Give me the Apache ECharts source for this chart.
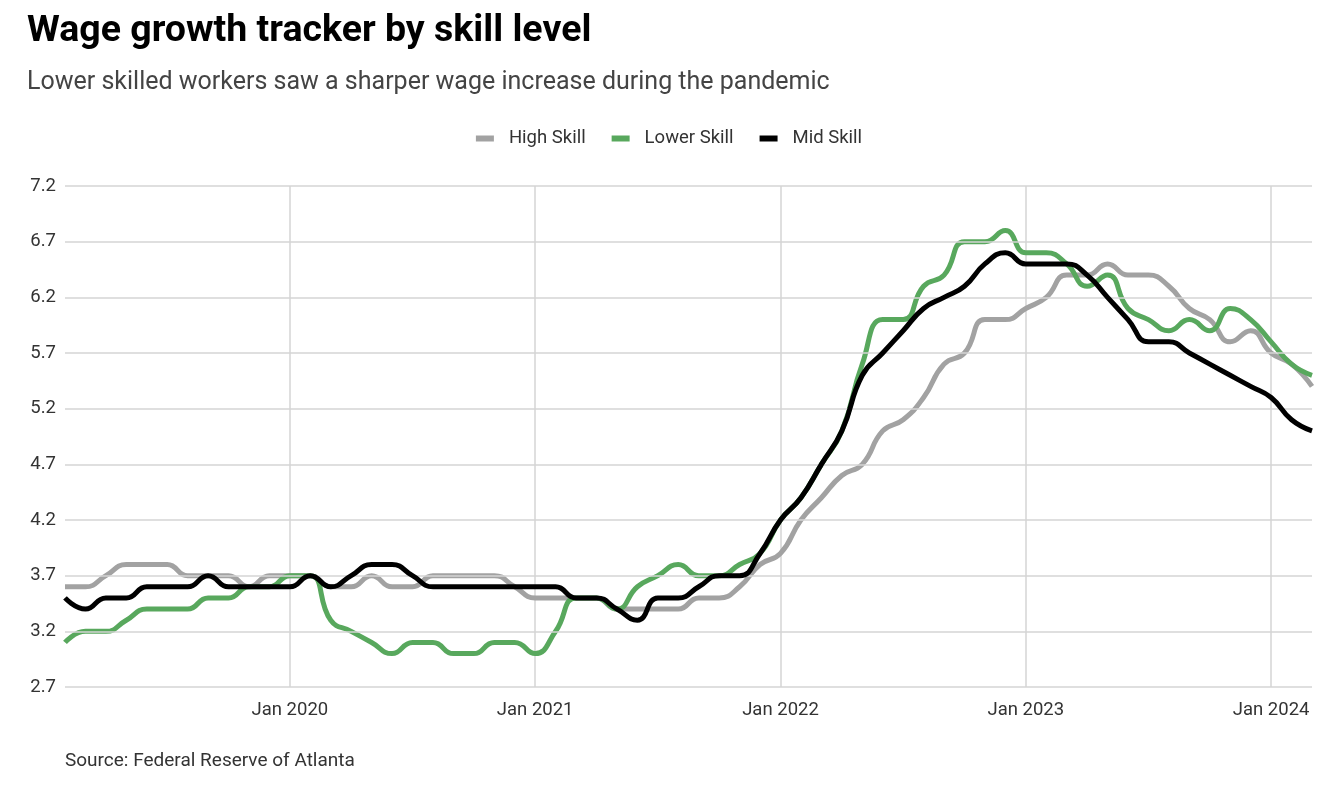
<!DOCTYPE html>
<html>
<head>
<meta charset="utf-8">
<script src="https://cdn.jsdelivr.net/npm/echarts@6/dist/echarts.min.js"></script>
<style>
  html, body { margin: 0; padding: 0; background: #ffffff; }
  #chart { width: 1338px; height: 808px; }
</style>
</head>
<body>
<div id="chart"></div>
<script>
// ---- Data (monthly, Feb 2019 – Mar 2024) ----
const months = [
  "Feb 2019","Mar 2019","Apr 2019","May 2019","Jun 2019","Jul 2019","Aug 2019","Sep 2019","Oct 2019","Nov 2019","Dec 2019",
  "Jan 2020","Feb 2020","Mar 2020","Apr 2020","May 2020","Jun 2020","Jul 2020","Aug 2020","Sep 2020","Oct 2020","Nov 2020","Dec 2020",
  "Jan 2021","Feb 2021","Mar 2021","Apr 2021","May 2021","Jun 2021","Jul 2021","Aug 2021","Sep 2021","Oct 2021","Nov 2021","Dec 2021",
  "Jan 2022","Feb 2022","Mar 2022","Apr 2022","May 2022","Jun 2022","Jul 2022","Aug 2022","Sep 2022","Oct 2022","Nov 2022","Dec 2022",
  "Jan 2023","Feb 2023","Mar 2023","Apr 2023","May 2023","Jun 2023","Jul 2023","Aug 2023","Sep 2023","Oct 2023","Nov 2023","Dec 2023",
  "Jan 2024","Feb 2024","Mar 2024"
];

const highSkill = [
  3.6, 3.6, 3.7, 3.8, 3.8, 3.8, 3.7, 3.7, 3.7, 3.6, 3.7,
  3.7, 3.7, 3.6, 3.6, 3.7, 3.6, 3.6, 3.7, 3.7, 3.7, 3.7, 3.6,
  3.5, 3.5, 3.5, 3.5, 3.4, 3.4, 3.4, 3.4, 3.5, 3.5, 3.6, 3.8,
  3.9, 4.2, 4.4, 4.6, 4.7, 5.0, 5.1, 5.3, 5.6, 5.7, 6.0, 6.0,
  6.1, 6.2, 6.4, 6.4, 6.5, 6.4, 6.4, 6.3, 6.1, 6.0, 5.8, 5.9,
  5.7, 5.6, 5.4
];

const lowerSkill = [
  3.1, 3.2, 3.2, 3.3, 3.4, 3.4, 3.4, 3.5, 3.5, 3.6, 3.6,
  3.7, 3.7, 3.3, 3.2, 3.1, 3.0, 3.1, 3.1, 3.0, 3.0, 3.1, 3.1,
  3.0, 3.2, 3.5, 3.5, 3.4, 3.6, 3.7, 3.8, 3.7, 3.7, 3.8, 3.9,
  4.2, 4.4, 4.7, 5.0, 5.6, 6.0, 6.0, 6.3, 6.4, 6.7, 6.7, 6.8,
  6.6, 6.6, 6.5, 6.3, 6.4, 6.1, 6.0, 5.9, 6.0, 5.9, 6.1, 6.0,
  5.8, 5.6, 5.5
];

const midSkill = [
  3.5, 3.4, 3.5, 3.5, 3.6, 3.6, 3.6, 3.7, 3.6, 3.6, 3.6,
  3.6, 3.7, 3.6, 3.7, 3.8, 3.8, 3.7, 3.6, 3.6, 3.6, 3.6, 3.6,
  3.6, 3.6, 3.5, 3.5, 3.4, 3.3, 3.5, 3.5, 3.6, 3.7, 3.7, 3.9,
  4.2, 4.4, 4.7, 5.0, 5.5, 5.7, 5.9, 6.1, 6.2, 6.3, 6.5, 6.6,
  6.5, 6.5, 6.5, 6.4, 6.2, 6.0, 5.8, 5.8, 5.7, 5.6, 5.5, 5.4,
  5.3, 5.1, 5.0
];

const yTicks = [2.7, 3.2, 3.7, 4.2, 4.7, 5.2, 5.7, 6.2, 6.7, 7.2];
const yTickLabels = ["2.7", "3.2", "3.7", "4.2", "4.7", "5.2", "5.7", "6.2", "6.7", "7.2"];

const seriesNames = ["High Skill", "Lower Skill", "Mid Skill"];
const seriesColors = ["#a2a2a2", "#58a85d", "#000000"];

// ---- Chart ----
const chart = echarts.init(document.getElementById('chart'), null, { renderer: 'canvas' });
const FONT = 'Roboto, "Noto Sans", sans-serif';
const isJan = (idx, val) => String(val).indexOf('Jan') === 0;

const option = {
  backgroundColor: '#ffffff',
  animation: false,
  textStyle: { fontFamily: FONT },
  title: [
    {
      text: 'Wage growth tracker by skill level',
      subtext: 'Lower skilled workers saw a sharper wage increase during the pandemic',
      left: 22,
      top: 8,
      itemGap: 19,
      textStyle: { fontFamily: FONT, fontSize: 37.5, fontWeight: 'bold', color: '#000000' },
      subtextStyle: { fontFamily: FONT, fontSize: 25, color: '#444444' }
    },
    {
      text: 'Source: Federal Reserve of Atlanta',
      left: 60,
      top: 747,
      textStyle: { fontFamily: FONT, fontSize: 19, fontWeight: 'normal', color: '#333333' }
    }
  ],
  legend: {
    data: seriesNames,
    left: 'center',
    top: 124,
    itemWidth: 18,
    itemHeight: 6,
    itemGap: 26,
    icon: 'rect',
    textStyle: { fontFamily: FONT, fontSize: 18.5, color: '#333333', padding: [0, 0, 0, 10] }
  },
  grid: { left: 65, right: 26, top: 186, bottom: 121, containLabel: false },
  xAxis: {
    type: 'category',
    data: months,
    boundaryGap: false,
    axisLine: { show: false },
    axisTick: { show: false },
    axisLabel: {
      interval: isJan,
      margin: 14,
      fontFamily: FONT,
      fontSize: 18.5,
      color: '#333333'
    },
    splitLine: {
      show: true,
      interval: isJan,
      lineStyle: { color: '#d4d4d4', width: 1.5 }
    }
  },
  yAxis: {
    type: 'value',
    min: 2.7,
    max: 7.2,
    axisLine: { show: false },
    axisTick: { show: false },
    axisLabel: { show: false },
    splitLine: { show: false }
  },
  series: [
    {
      name: '__grid',
      type: 'line',
      data: [],
      z: 1,
      silent: true,
      markLine: {
        silent: true,
        symbol: ['none', 'none'],
        animation: false,
        lineStyle: { color: '#d4d4d4', width: 1.5, type: 'solid' },
        label: {
          show: true,
          position: 'start',
          distance: 9,
          fontFamily: FONT,
          fontSize: 18.5,
          color: '#333333'
        },
        emphasis: { disabled: true },
        data: yTicks.map((v, i) => ({ yAxis: v, label: { formatter: yTickLabels[i] } }))
      }
    },
    ...seriesNames.map((name, k) => ({
      name: name,
      type: 'line',
      data: [highSkill, lowerSkill, midSkill][k],
      smooth: 0.5,
      showSymbol: false,
      symbol: 'none',
      z: 3 + k,
      color: seriesColors[k],
      lineStyle: { color: seriesColors[k], width: 5 },
      emphasis: { disabled: true }
    }))
  ]
};

chart.setOption(option);
</script>
</body>
</html>
